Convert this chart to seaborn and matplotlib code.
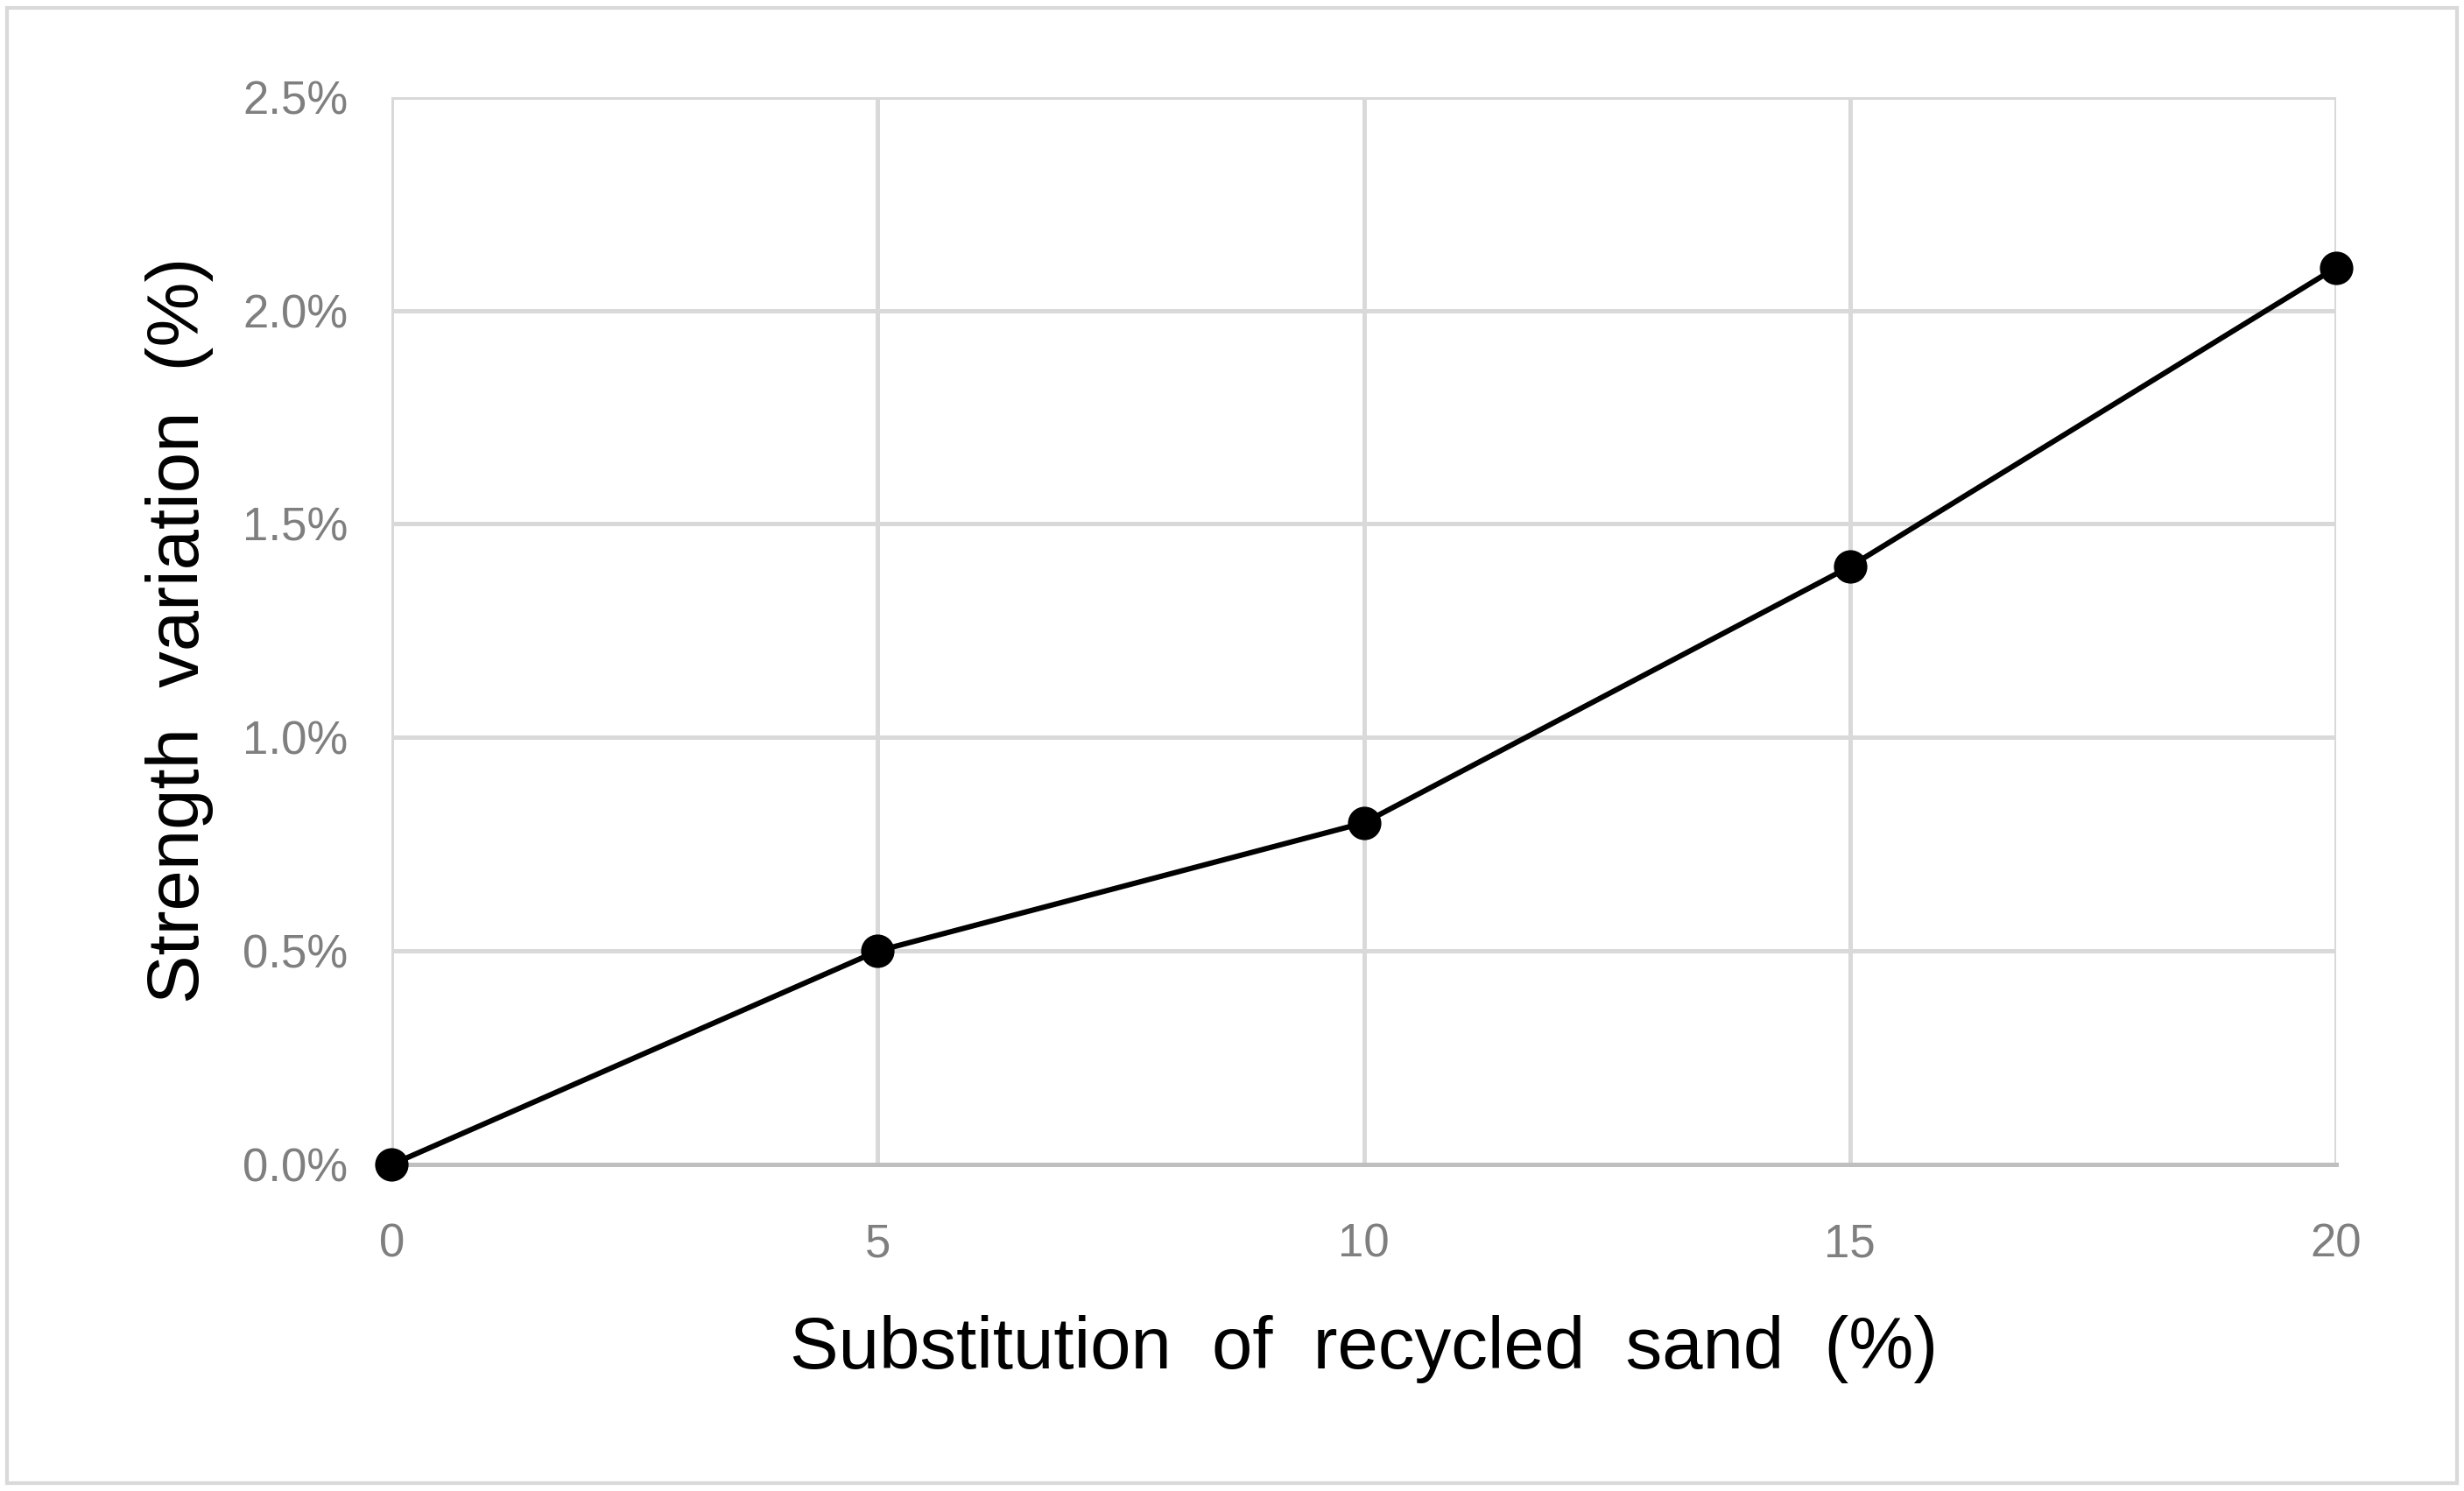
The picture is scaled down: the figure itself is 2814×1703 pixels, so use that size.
import seaborn as sns
import matplotlib.pyplot as plt
import matplotlib.ticker as mticker
import pandas as pd

# Data
substitution = [0, 5, 10, 15, 20]
strength_var = [0.0, 0.5, 0.8, 1.4, 2.1]

df = pd.DataFrame({"x": substitution, "y": strength_var})

sns.set_theme(style="whitegrid")
plt.rcParams['font.family'] = ['Liberation Sans', 'DejaVu Sans']

fig = plt.figure(figsize=(14.07, 8.515), dpi=200)
ax = fig.add_axes([0.159, 0.219, 0.789, 0.716])

sns.lineplot(data=df, x="x", y="y", ax=ax, color="black", linewidth=2.2,
             marker="o", markersize=13, markeredgecolor="black", clip_on=False, zorder=5)

ax.set_xlim(0, 20)
ax.set_ylim(0, 2.5)
ax.set_xticks([0, 5, 10, 15, 20])
ax.set_yticks([0, 0.5, 1.0, 1.5, 2.0, 2.5])
ax.yaxis.set_major_formatter(mticker.FuncFormatter(lambda v, p: f"{v:.1f}%"))
ax.grid(True, color="#d9d9d9", linewidth=1.8)
for s in ["top", "right", "left"]:
    ax.spines[s].set_visible(False)
ax.spines["bottom"].set_color("#bfbfbf")
ax.spines["bottom"].set_linewidth(1.8)
ax.tick_params(axis="both", labelsize=19, colors="#7f7f7f", pad=12)
ax.tick_params(axis="x", pad=18)

ax.set_xlabel("Substitution  of  recycled  sand  (%)", fontsize=30, color="black", labelpad=20)
ax.set_ylabel("Strength  variation  (%)", fontsize=30, color="black", labelpad=12)

# Outer chart border
fig.patches.append(plt.Rectangle((0.003, 0.005), 0.994, 0.99, transform=fig.transFigure,
                                 fill=False, edgecolor="#d9d9d9", linewidth=1.5))

fig.savefig("out.png", dpi=200)
